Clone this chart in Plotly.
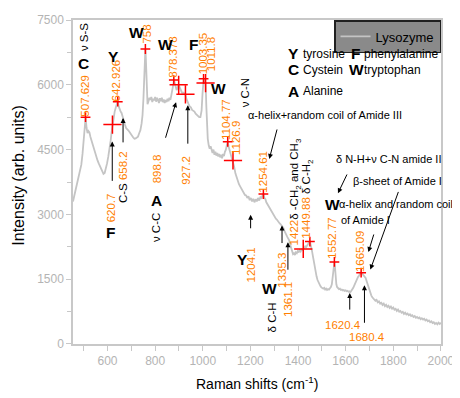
import plotly.graph_objects as go

# ---------------- data ----------------
raman_shift = [
    455, 460, 465, 470, 475, 480, 485, 490, 495, 500,
    504, 508, 512, 516, 520, 524, 528, 533, 538, 543,
    548, 553, 558, 563, 568, 573, 578, 583, 588, 593,
    598, 603, 608, 613, 617, 621, 625, 630, 635, 639,
    643, 647, 651, 655, 659, 663, 668, 673, 678, 683,
    688, 693, 698, 703, 708, 713, 718, 723, 728, 733,
    738, 743, 747, 751, 754, 757, 759, 761, 763, 765,
    768, 772, 776, 780, 784, 788, 792, 796, 800, 804,
    808, 812, 816, 820, 824, 828, 832, 836, 840, 844,
    848, 852, 856, 860, 864, 868, 872, 876, 879, 882,
    886, 890, 894, 898, 902, 906, 910, 914, 918, 922,
    927, 931, 935, 940, 945, 950, 955, 960, 965, 970,
    975, 980, 985, 990, 995, 999, 1002, 1004, 1007, 1010,
    1012, 1015, 1018, 1021, 1025, 1029, 1033, 1037, 1041, 1045,
    1049, 1053, 1057, 1061, 1065, 1069, 1073, 1077, 1081, 1085,
    1089, 1093, 1097, 1101, 1105, 1109, 1113, 1117, 1121, 1127,
    1132, 1137, 1142, 1147, 1152, 1157, 1162, 1167, 1172, 1177,
    1182, 1187, 1192, 1197, 1202, 1207, 1212, 1217, 1222, 1227,
    1232, 1237, 1242, 1247, 1251, 1255, 1259, 1263, 1267, 1271,
    1275, 1279, 1283, 1287, 1291, 1295, 1299, 1303, 1307, 1311,
    1315, 1319, 1323, 1327, 1331, 1335, 1339, 1343, 1347, 1351,
    1355, 1359, 1363, 1367, 1371, 1375, 1379, 1383, 1387, 1391,
    1395, 1399, 1403, 1407, 1411, 1415, 1419, 1422, 1426, 1430,
    1434, 1438, 1442, 1446, 1450, 1454, 1458, 1462, 1466, 1470,
    1474, 1478, 1482, 1486, 1490, 1494, 1498, 1502, 1506, 1510,
    1514, 1518, 1522, 1526, 1530, 1534, 1538, 1542, 1545, 1548,
    1551, 1553, 1555, 1558, 1561, 1564, 1568, 1572, 1576, 1580,
    1584, 1588, 1592, 1596, 1600, 1604, 1608, 1612, 1616, 1620,
    1624, 1628, 1632, 1636, 1640, 1644, 1648, 1652, 1656, 1660,
    1664, 1668, 1672, 1676, 1680, 1684, 1688, 1692, 1696, 1700,
    1704, 1708, 1712, 1716, 1720, 1725, 1730, 1735, 1740, 1745,
    1750, 1755, 1760, 1765, 1770, 1775, 1780, 1785, 1790, 1795,
    1800, 1805, 1810, 1815, 1820, 1825, 1830, 1835, 1840, 1845,
    1850, 1855, 1860, 1865, 1870, 1875, 1880, 1885, 1890, 1895,
    1900, 1905, 1910, 1915, 1920, 1925, 1930, 1935, 1940, 1945,
    1950, 1955, 1960, 1965, 1970, 1975, 1980, 1985, 1990, 1995,
    2000,
]
intensity = [
    3300, 3420, 3560, 3650, 3800, 3880, 4000, 4150, 4400, 4700,
    5000, 5250, 5000, 4880, 4930, 4900, 4800, 4700, 4620, 4500,
    4420, 4330, 4250, 4180, 4120, 4050, 4000, 3940, 3960, 4050,
    4180, 4330, 4480, 4700, 4900, 5080, 5250, 5380, 5480, 5560,
    5620, 5500, 5420, 5380, 5350, 5250, 5150, 5080, 5000, 4980,
    4940, 4900, 4870, 4820, 4780, 4750, 4760, 4780, 4800, 4880,
    4950, 5100, 5300, 5700, 6200, 6600, 6830, 6600, 6100, 5700,
    5550, 5620, 5700, 5650, 5720, 5600, 5680, 5640, 5720, 5610,
    5700, 5650, 5580, 5690, 5620, 5700, 5600, 5660, 5580, 5650,
    5600, 5680, 5620, 5700, 5650, 5760, 5850, 6000, 6110, 6050,
    5950, 5880, 5920, 6000, 5960, 5900, 5850, 5800, 5820, 5790,
    5780, 5680, 5600, 5560, 5500, 5480, 5420, 5400, 5380, 5330,
    5300, 5280, 5250, 5250, 5400, 5800, 6100, 6140, 6080, 6050,
    6040, 5500, 5000, 4750, 4600, 4520, 4580, 4480, 4420, 4500,
    4380, 4450, 4360, 4420, 4340, 4400, 4320, 4380, 4300, 4400,
    4350, 4450, 4500, 4600, 4680, 4560, 4480, 4400, 4320, 4250,
    4100, 3950, 3850, 3750, 3700, 3650, 3600, 3560, 3500, 3450,
    3440, 3380, 3420, 3330, 3380, 3300, 3360, 3280, 3350, 3300,
    3380, 3320, 3400, 3380, 3440, 3470, 3380, 3350, 3280, 3240,
    3200, 3160, 3120, 3080, 3040, 3000, 2980, 2950, 2900, 2880,
    2840, 2820, 2790, 2770, 2740, 2720, 2680, 2620, 2560, 2520,
    2480, 2440, 2400, 2300, 2200, 2120, 2080, 2100, 2060, 2120,
    2100, 2150, 2120, 2170, 2140, 2190, 2180, 2200, 2220, 2260,
    2240, 2290, 2320, 2350, 2370, 2300, 2180, 2050, 1900, 1780,
    1650, 1560, 1480, 1420, 1380, 1340, 1310, 1290, 1280, 1300,
    1260, 1280, 1250, 1270, 1260, 1290, 1320, 1380, 1500, 1680,
    1860, 1900, 1800, 1550, 1380, 1320, 1290, 1270, 1280, 1250,
    1260, 1240, 1250, 1230, 1240, 1220, 1230, 1210, 1220, 1200,
    1230, 1260, 1300, 1350, 1410, 1460, 1510, 1550, 1580, 1620,
    1650, 1640, 1610, 1590, 1570, 1530, 1460, 1380, 1300, 1240,
    1180, 1120, 1080, 1050, 1030, 1000, 1020, 965, 985, 935,
    955, 905, 935, 875, 905, 855, 885, 835, 865, 815,
    845, 795, 815, 765, 795, 745, 765, 725, 745, 695,
    725, 685, 705, 665, 685, 645, 665, 625, 645, 605,
    625, 595, 615, 575, 595, 565, 585, 545, 565, 525,
    545, 505, 525, 485, 505, 465, 485, 455, 495, 465,
    490,
]

peak_small_x = [507.629, 642.926, 759.0, 878.378, 1003.35, 1104.77, 1254.61, 1449.88, 1552.77, 1665.09]
peak_small_y = [5250, 5610, 6830, 6110, 6140, 4680, 3470, 2370, 1900, 1650]
peak_big_x = [620.7, 898.8, 927.2, 1011.8, 1126.9, 1422.0]
peak_big_y = [5080, 6000, 5780, 6040, 4250, 2200]

x_tick_vals = [600, 800, 1000, 1200, 1400, 1600, 1800, 2000]
y_tick_vals = [0, 1500, 3000, 4500, 6000, 7500]

assert len(raman_shift) == len(intensity)

# ---------------- layout helpers ----------------
# The page body has an 8px margin, so the figure is drawn 8px smaller and
# positions below are given in window pixels.
OFF = 8
W, H = 460 - OFF, 398 - OFF
ML, MT, PW, PH = 73 - OFF, 13 - OFF, 375, 331
MR, MB = W - ML - PW, H - MT - PH
FONT = "Arial, Liberation Sans, sans-serif"
ORANGE = "#ff8000"


def PX(p):
    return (p - 73) / PW


def PY(p):
    return (344 - p) / PH


annotations = []


def rot(text, px, pyb, color="black", size=11.5):
    annotations.append(dict(
        x=PX(px), y=PY(pyb), xref="paper", yref="paper", text=text,
        textangle=-90, xanchor="center", yanchor="bottom", showarrow=False,
        borderpad=0, font=dict(family=FONT, size=size, color=color)))


def hz(text, px, py, color="black", size=11, xanchor="left", bold=False):
    annotations.append(dict(
        x=PX(px), y=PY(py), xref="paper", yref="paper",
        text=("<b>%s</b>" % text) if bold else text,
        xanchor=xanchor, yanchor="middle", showarrow=False, borderpad=0,
        font=dict(family=FONT, size=size, color=color)))


def arrow(tx, ty, hx, hy):
    annotations.append(dict(
        x=PX(hx), y=PY(hy), xref="paper", yref="paper", text=" ",
        showarrow=True, ax=tx - hx, ay=ty - hy, arrowhead=2, arrowsize=1,
        arrowwidth=1, arrowcolor="black", standoff=0))


def org(t):
    return '<span style="color:%s">%s</span>' % (ORANGE, t)


# orange rotated peak labels
for t, px, py in [
    ("507.629", 85, 113), ("642.926", 117, 97), ("758", 148, 38),
    ("878.378", 175, 73), ("1003.35", 205, 70), ("1011.8", 214, 66),
    ("1104.77", 229, 137), ("1126.9", 239, 152), ("1254.61", 267, 190),
    ("1552.77", 337, 258), ("1665.09", 365, 272), ("620.7", 112, 221),
    ("898.8", 159, 181), ("927.2", 188, 182), ("1204.1", 254, 282),
    ("1335.3", 286, 288), ("1361.1", 292, 317),
]:
    rot(t, px, py, ORANGE)

rot("C-S " + org("658.2"), 124, 201)
rot(org("1422") + "δ -CH<sub>2</sub> and CH<sub>3</sub>", 299, 244)
rot(org("1449.88") + " δ C-H<sub>2</sub>", 312, 238)

for t, px, py in [("ν S-S", 85, 46), ("ν C-C", 157, 241),
                  ("ν C-N", 248, 103), ("δ C-H", 276, 333)]:
    rot(t, px, py)

hz("1620.4", 348, 325, ORANGE, size=11.5, xanchor="center")
hz("1680.4", 373, 337, ORANGE, size=11.5, xanchor="center")

hz("α-helix+random coil of Amide III", 250, 110)
hz("δ N-H+ν C-N amide II", 340, 155)
hz("β-sheet of Amide I", 357, 177)
hz("α-helix and random coil", 343, 201)
hz("of Amide I", 345, 217)

for t, px, py in [("C", 84, 57), ("Y", 114, 50), ("W", 138, 26), ("W", 167, 38),
                  ("F", 196, 38), ("W", 221, 83), ("F", 111, 230), ("A", 158, 197),
                  ("Y", 246, 258), ("W", 273, 287), ("W", 337, 201),
                  ("Y", 298, 47), ("F", 361, 47), ("C", 298, 64), ("W", 362, 64),
                  ("A", 298, 86)]:
    hz(t, px, py, size=15.5, xanchor="center", bold=True)

for t, px, py in [("tyrosine", 306, 48), ("phenylalanine", 369, 48),
                  ("Cystein", 306, 64), ("tryptophan", 369, 64), ("Alanine", 306, 86)]:
    hz(t, px, py, size=12)

for a in [(113, 185, 113, 137), (124, 146, 124, 113), (165, 141, 178, 97),
          (190, 147, 190, 100), (254, 234, 254, 212), (286, 249, 286, 223),
          (292, 276, 292, 240), (355, 317, 355, 292), (370, 330, 370, 284),
          (283, 117, 273, 155), (355, 165, 343, 190), (407, 182, 376, 268),
          (382, 224, 374, 250)]:
    arrow(*a)

# axis titles
annotations.append(dict(x=PX(18), y=PY(172), xref="paper", yref="paper",
                        text="Intensity (arb. units)", textangle=-90, showarrow=False,
                        xanchor="center", yanchor="middle",
                        font=dict(family=FONT, size=16, color="black")))
annotations.append(dict(x=PX(260), y=PY(384), xref="paper", yref="paper",
                        text="Raman shifts (cm<sup>-1</sup>)", showarrow=False,
                        xanchor="center", yanchor="middle",
                        font=dict(family=FONT, size=14, color="black")))

# ---------------- figure ----------------
fig = go.Figure()
fig.add_trace(go.Scatter(x=raman_shift, y=intensity, mode="lines", name="Lysozyme",
                         line=dict(color="#c4c4c4", width=1.8)))
fig.add_trace(go.Scatter(x=peak_small_x, y=peak_small_y, mode="markers", showlegend=False,
                         marker=dict(symbol="cross-thin", size=7,
                                     line=dict(color="red", width=1.5))))
fig.add_trace(go.Scatter(x=peak_big_x, y=peak_big_y, mode="markers", showlegend=False,
                         marker=dict(symbol="cross-thin", size=13,
                                     line=dict(color="red", width=1.5))))

axis_common = dict(showgrid=False, zeroline=False, showline=True, linecolor="#c8c8c8",
                   linewidth=1.5, mirror=True, ticks="outside", ticklen=5,
                   tickcolor="#c8c8c8", tickwidth=1, ticklabeloverflow="allow",
                   tickfont=dict(family=FONT, size=12, color="#b4b4b4"))

fig.update_layout(
    width=W, height=H, margin=dict(l=ML, r=MR, t=MT, b=MB, pad=0),
    paper_bgcolor="white", plot_bgcolor="white",
    font=dict(family=FONT),
    xaxis=dict(range=[455, 2000.5], tickvals=x_tick_vals,
               minor=dict(dtick=100, tick0=0, ticks="outside", ticklen=5,
                          tickcolor="#c8c8c8"),
               **axis_common),
    yaxis=dict(range=[-1, 7501], tickvals=y_tick_vals,
               minor=dict(dtick=750, tick0=0, ticks="outside", ticklen=4,
                          tickcolor="#c8c8c8"),
               **axis_common),
    legend=dict(x=1, y=1, xanchor="right", yanchor="top", bgcolor="#8a8a8a",
                bordercolor="#202020", borderwidth=1.5, itemwidth=30,
                font=dict(family=FONT, size=13, color="black")),
    annotations=annotations,
)

fig.write_html("out.html")
